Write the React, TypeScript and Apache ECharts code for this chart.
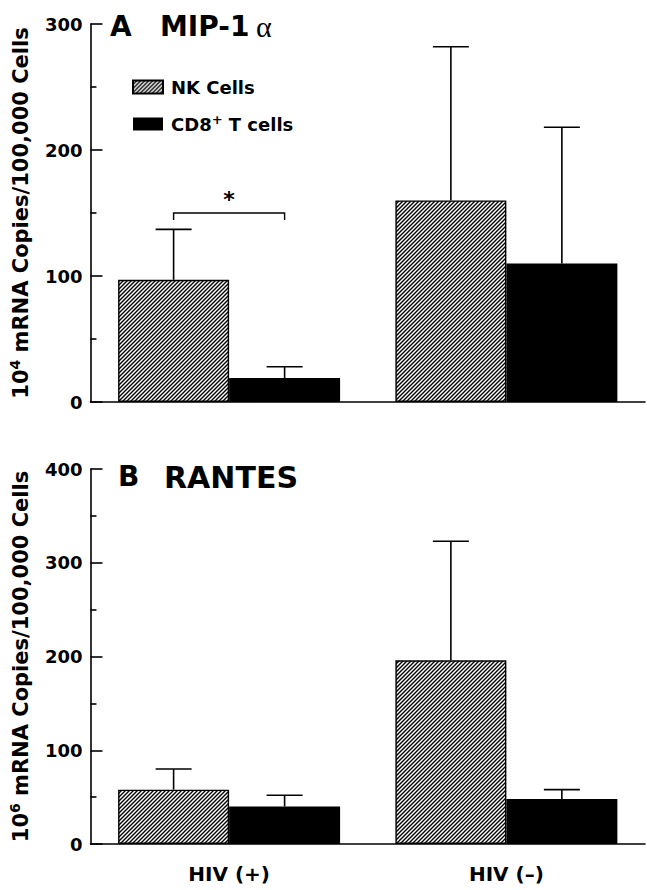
import React, { useEffect, useRef } from 'react';
import * as echarts from 'echarts';

// ---------- data ----------
const categories = ['HIV (+)', 'HIV (–)'];
const seriesNames = ['NK Cells', 'CD8+ T cells'];

// Panel A: MIP-1α (10^4 mRNA copies / 100,000 cells)
const mipNK = [97, 160];
const mipNKSd = [40, 122];
const mipCD8 = [19, 110];
const mipCD8Sd = [9, 108];
const mipTicks = [0, 100, 200, 300];

// Panel B: RANTES (10^6 mRNA copies / 100,000 cells)
const rantesNK = [58, 196];
const rantesNKSd = [22, 127];
const rantesCD8 = [40, 48];
const rantesCD8Sd = [12, 10];
const rantesTicks = [0, 100, 200, 300, 400];

// significance bracket in panel A: [category index, level]
const sigBracket = [[0, 150]];
const sigLabel = '*';

// ---------- styling ----------
const FONT = '"DejaVu Sans", "Liberation Sans", Arial, sans-serif';
const BAR_W = 111;
const CAP = 36;
const LW = 1.6;

function makeHatch(): any {
  const c = document.createElement('canvas');
  c.width = 4;
  c.height = 4;
  const ctx = c.getContext('2d')!;
  ctx.fillStyle = '#ffffff';
  ctx.fillRect(0, 0, 4, 4);
  ctx.strokeStyle = '#000000';
  ctx.lineWidth = 1.4;
  ctx.beginPath();
  ctx.moveTo(-1, 5);
  ctx.lineTo(5, -1);
  ctx.moveTo(-1, 1);
  ctx.lineTo(1, -1);
  ctx.moveTo(3, 5);
  ctx.lineTo(5, 3);
  ctx.stroke();
  return { image: c, repeat: 'repeat', imageWidth: 4, imageHeight: 4 };
}

const errRender = (sign: number) => (params: any, api: any) => {
  const ci = api.value(0);
  const m = api.value(1);
  const sd = api.value(2);
  const p0 = api.coord([ci, m]);
  const p1 = api.coord([ci, m + sd]);
  const x = p0[0] + (sign * BAR_W) / 2;
  return {
    type: 'group',
    children: [
      { type: 'line', shape: { x1: x, y1: p0[1], x2: x, y2: p1[1] }, style: { stroke: '#000', lineWidth: LW } },
      { type: 'line', shape: { x1: x - CAP / 2, y1: p1[1], x2: x + CAP / 2, y2: p1[1] }, style: { stroke: '#000', lineWidth: LW } },
    ],
  };
};

const bracketRender = (params: any, api: any) => {
  const ci = api.value(0);
  const lvl = api.value(1);
  const p = api.coord([ci, lvl]);
  const x1 = p[0] - BAR_W / 2;
  const x2 = p[0] + BAR_W / 2;
  const y = p[1];
  return {
    type: 'group',
    children: [
      {
        type: 'polyline',
        shape: { points: [[x1, y + 7], [x1, y], [x2, y], [x2, y + 7]] },
        style: { stroke: '#000', lineWidth: 1.4, fill: 'none' },
      },
      {
        type: 'text',
        x: p[0],
        y: y - 3,
        style: { text: sigLabel, font: `bold 22px ${FONT}`, fill: '#000', align: 'center', verticalAlign: 'bottom' },
      },
    ],
  };
};

function yAxisCfg(gridIndex: number, ticks: number[], exp: string) {
  return {
    type: 'value',
    gridIndex,
    min: ticks[0],
    max: ticks[ticks.length - 1],
    interval: ticks[1] - ticks[0],
    name: `10{sup|${exp}} mRNA Copies/100,000 Cells`,
    nameLocation: 'middle',
    nameRotate: 90,
    nameGap: 55,
    nameTextStyle: {
      fontFamily: FONT,
      fontWeight: 'bold',
      fontSize: 21,
      color: '#000',
      lineHeight: 26,
      rich: {
        sup: { fontFamily: FONT, fontWeight: 'bold', fontSize: 14, color: '#000', lineHeight: 14, verticalAlign: 'top' },
      },
    },
    axisLine: { show: true, lineStyle: { color: '#000', width: LW } },
    axisTick: { show: true, inside: true, length: 12, lineStyle: { color: '#000', width: LW } },
    minorTick: { show: true, splitNumber: 2, length: 6, lineStyle: { color: '#000', width: LW } },
    splitLine: { show: false },
    axisLabel: { margin: 8, fontFamily: FONT, fontWeight: 'bold', fontSize: 18, color: '#000' },
  };
}

function xAxisCfg(gridIndex: number, showLabels: boolean) {
  return {
    type: 'category',
    gridIndex,
    data: categories,
    axisLine: { show: true, lineStyle: { color: '#000', width: LW } },
    axisTick: { show: false },
    axisLabel: { show: showLabels, margin: 20, fontFamily: FONT, fontWeight: 'bold', fontSize: 20, color: '#000' },
  };
}

function panelSeries(idx: number, nk: number[], nkSd: number[], cd8: number[], cd8Sd: number[], hatch: any) {
  return [
    {
      type: 'bar',
      name: seriesNames[0],
      xAxisIndex: idx,
      yAxisIndex: idx,
      data: nk,
      barWidth: BAR_W,
      barGap: '0%',
      itemStyle: { color: hatch, borderColor: '#000', borderWidth: 1.4 },
    },
    {
      type: 'bar',
      name: seriesNames[1],
      xAxisIndex: idx,
      yAxisIndex: idx,
      data: cd8,
      barWidth: BAR_W,
      barGap: '0%',
      itemStyle: { color: '#000' },
    },
    {
      type: 'custom',
      xAxisIndex: idx,
      yAxisIndex: idx,
      renderItem: errRender(-1),
      data: nk.map((v, i) => [i, v, nkSd[i]]),
      encode: { x: 0, y: 1 },
      z: 3,
    },
    {
      type: 'custom',
      xAxisIndex: idx,
      yAxisIndex: idx,
      renderItem: errRender(1),
      data: cd8.map((v, i) => [i, v, cd8Sd[i]]),
      encode: { x: 0, y: 1 },
      z: 3,
    },
  ];
}

const titleStyle = { fontFamily: FONT, fontWeight: 'bold', fontSize: 28, color: '#000' };

export default function App() {
  const ref = useRef<HTMLDivElement>(null);
  useEffect(() => {
    const chart = echarts.init(ref.current!, null, { renderer: 'svg' });
    const hatch = makeHatch();
    const option: any = {
      animation: false,
      backgroundColor: '#fff',
      title: [
        { text: 'A', left: 110, top: 12, padding: 0, textStyle: titleStyle },
        { text: 'MIP-1', left: 160, top: 12, padding: 0, textStyle: titleStyle },
        { text: 'α', left: 256, top: 11, padding: 0, textStyle: { fontFamily: '"Liberation Serif", serif', fontWeight: 'normal', fontSize: 30, color: '#000' } },
        { text: 'B', left: 118, top: 462, padding: 0, textStyle: titleStyle },
        { text: 'RANTES', left: 164, top: 462, padding: 0, textStyle: { ...titleStyle, fontSize: 30 } },
      ],
      legend: {
        left: 132,
        top: 76,
        padding: 0,
        orient: 'vertical',
        itemWidth: 30,
        itemHeight: 13,
        itemGap: 15,
        icon: 'rect',
        data: seriesNames,
        formatter: (name: string) => (name === 'CD8+ T cells' ? 'CD8{sup|+} T cells' : name),
        textStyle: {
          fontFamily: FONT,
          fontWeight: 'bold',
          fontSize: 18,
          color: '#000',
          lineHeight: 22,
          padding: [0, 0, 0, 3],
          rich: {
            sup: { fontFamily: FONT, fontWeight: 'bold', fontSize: 13, color: '#000', lineHeight: 12, verticalAlign: 'top' },
          },
        },
      },
      grid: [
        { left: 90, right: 2, top: 24, height: 378 },
        { left: 90, right: 2, top: 469, height: 375 },
      ],
      xAxis: [xAxisCfg(0, false), xAxisCfg(1, true)],
      yAxis: [yAxisCfg(0, mipTicks, '4'), yAxisCfg(1, rantesTicks, '6')],
      series: [
        ...panelSeries(0, mipNK, mipNKSd, mipCD8, mipCD8Sd, hatch),
        ...panelSeries(1, rantesNK, rantesNKSd, rantesCD8, rantesCD8Sd, hatch),
        {
          type: 'custom',
          xAxisIndex: 0,
          yAxisIndex: 0,
          renderItem: bracketRender,
          data: sigBracket,
          encode: { x: 0, y: 1 },
          z: 4,
        },
      ],
    };
    chart.setOption(option);
    return () => chart.dispose();
  }, []);
  return <div ref={ref} style={{ width: 647, height: 890, position: 'absolute', left: 0, top: 0 }} />;
}
